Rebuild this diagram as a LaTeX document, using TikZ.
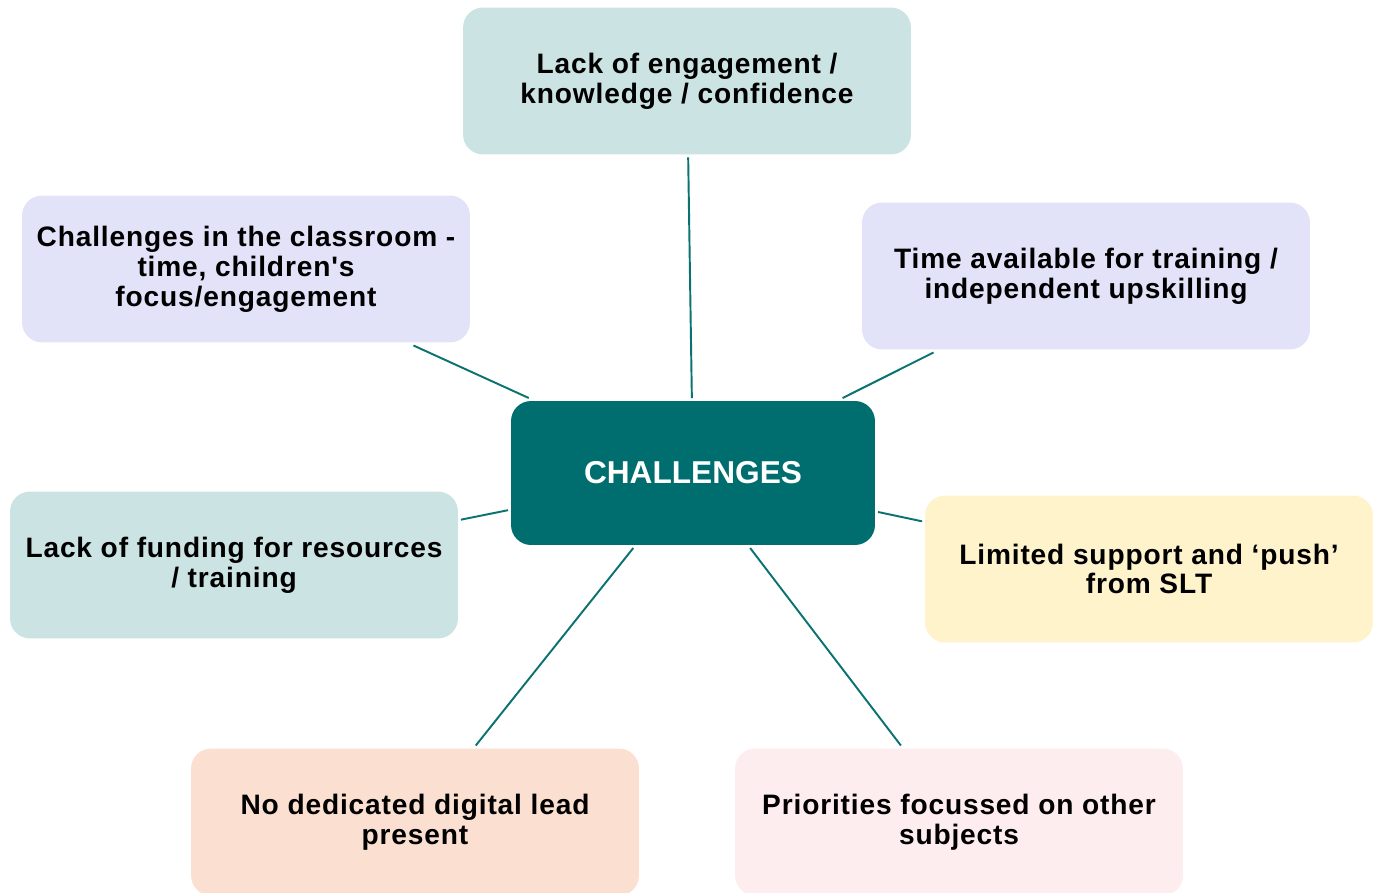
\documentclass[tikz,border=0pt]{standalone}
\usepackage{fontspec}
\setmainfont{Liberation Sans}[Ligatures=TeXOff]
\newfontfamily\boxfont{Liberation Sans}[Ligatures=TeXOff, LetterSpace=3]
\usetikzlibrary{graphs}

\definecolor{tealdark}{HTML}{006E6E}
\definecolor{tealline}{HTML}{0B7272}
\definecolor{tealpale}{HTML}{CCE3E3}
\definecolor{lavender}{HTML}{E2E2F8}
\definecolor{butter}{HTML}{FFF3CC}
\definecolor{peach}{HTML}{FBE0D2}
\definecolor{blush}{HTML}{FEEDEE}

\begin{document}
\begin{tikzpicture}
    [
        x=0.02cm, y=-0.02cm,
        block/.style = {
                rectangle,
                minimum width=8.96cm,
                minimum height=2.94cm,
                rounded corners=0.4cm,
                align=center,
                outer sep=1.7pt,
                font=\boxfont\bfseries\fontsize{16}{17}\selectfont
            },
        hub/.style = {
                block,
                fill=tealdark,
                text=white,
                minimum width=7.28cm,
                minimum height=2.88cm,
                font=\bfseries\fontsize{18}{20}\selectfont
            },
        spoke/.style = {draw=tealline, line width=1.1pt},
    ]

    \useasboundingbox (0,0) rectangle (1378,892);
    \clip (0,0) rectangle (1378,892);

    \node [hub] (challenges) at (693,473) {CHALLENGES};

    \node [block, fill=tealpale] (engagement) at (687,81) {Lack of engagement /\\knowledge / confidence};
    \node [block, fill=lavender] (classroom) at (246,269) {Challenges in the classroom -\\time, children's\\focus/engagement};
    \node [block, fill=lavender] (time) at (1086,276) {Time available for training /\\independent upskilling};
    \node [block, fill=tealpale] (funding) at (234,565) {Lack of funding for resources\\/ training};
    \node [block, fill=butter] (slt) at (1149,569) {Limited support and ‘push’\\from SLT};
    \node [block, fill=peach] (digital) at (415,822) {No dedicated digital lead\\present};
    \node [block, fill=blush] (priorities) at (959,822) {Priorities focussed on other\\subjects};

    \graph[use existing nodes, edges={spoke}] {
        challenges -- {engagement, classroom, time, funding, slt, digital, priorities};
    };

\end{tikzpicture}
\end{document}
